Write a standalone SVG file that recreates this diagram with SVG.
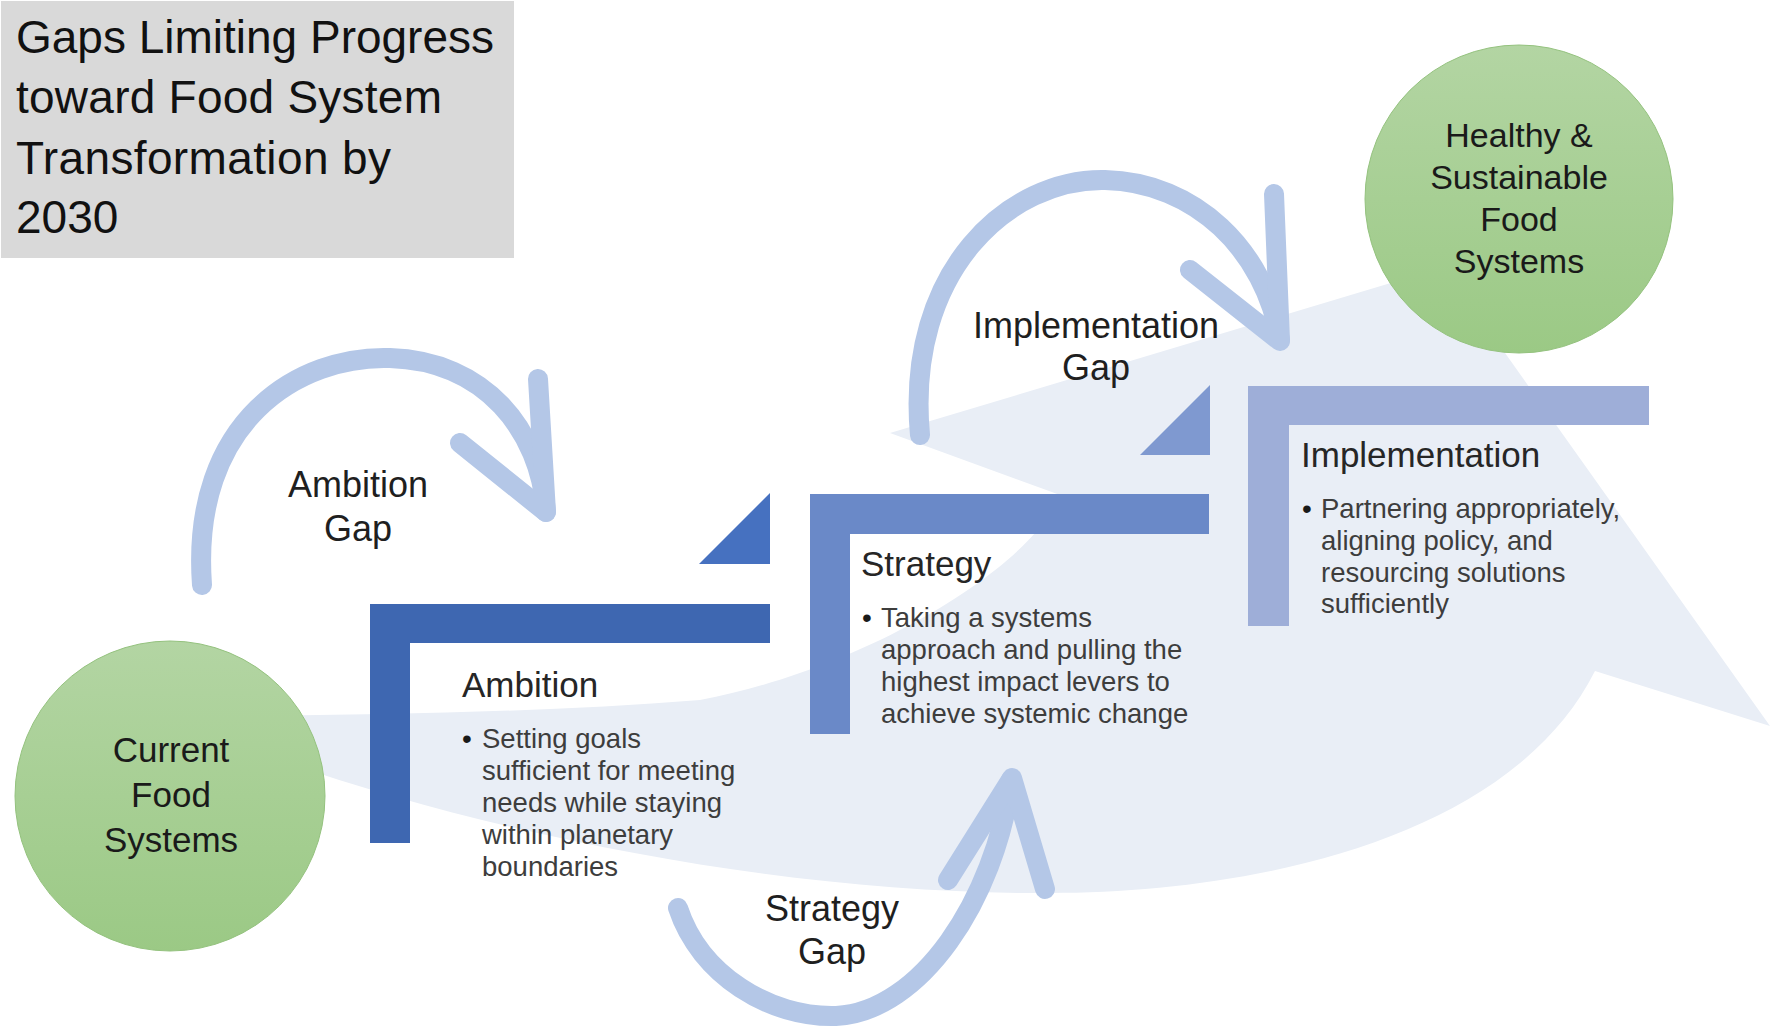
<svg xmlns="http://www.w3.org/2000/svg" width="1772" height="1028" viewBox="0 0 1772 1028">
  <defs>
    <linearGradient id="green" x1="0" y1="0" x2="0" y2="1">
      <stop offset="0" stop-color="#b3d5a3"/>
      <stop offset="1" stop-color="#9bc985"/>
    </linearGradient>
    <style>
      text { font-family: "Liberation Sans", Arial, sans-serif; }
      .ttl { font-size: 46px; fill: #111111; }
      .node { font-size: 35px; fill: #1a1a1a; text-anchor: middle; }
      .gaplbl { font-size: 36px; fill: #1f1f1f; text-anchor: middle; }
      .head { font-size: 35px; fill: #262626; }
      .bul { font-size: 27.5px; fill: #3d3d3d; }
      .dot { font-size: 28px; fill: #1a1a1a; }
      .gap { stroke: #b4c7e7; stroke-width: 20; fill: none; stroke-linecap: round; stroke-linejoin: round; }
      .circ { fill: url(#green); stroke: #94c27e; stroke-width: 1; }
    </style>
  </defs>

  <rect x="0" y="0" width="1772" height="1028" fill="#ffffff"/>

  <g id="title">
    <rect x="1" y="1" width="513" height="257" fill="#d9d9d9"/>
    <text class="ttl" x="16" y="53" textLength="478" lengthAdjust="spacing">Gaps Limiting Progress</text>
    <text class="ttl" x="16" y="113" textLength="426" lengthAdjust="spacing">toward Food System</text>
    <text class="ttl" x="16" y="174" textLength="375" lengthAdjust="spacing">Transformation by</text>
    <text class="ttl" x="16" y="233">2030</text>
  </g>

  <g id="background-arrow">
    <path d="M 220 718 L 250 716 C 400 714, 550 712, 700 700 C 860 670, 1030 570, 1060 495 L 890 433 L 1444 267 L 1770 726 L 1595 671 C 1510 840, 1250 893, 1050 893 C 800 895, 500 840, 250 750 Z" fill="#e9eef6"/>
  </g>

  <g id="node-current">
    <circle class="circ" cx="170" cy="796" r="155"/>
    <text class="node" x="171" y="762">Current</text>
    <text class="node" x="171" y="807">Food</text>
    <text class="node" x="171" y="852">Systems</text>
  </g>

  <g id="node-healthy">
    <circle class="circ" cx="1519" cy="199" r="154"/>
    <text class="node" x="1519" y="147" style="font-size:34px">Healthy &amp;</text>
    <text class="node" x="1519" y="189" style="font-size:34px">Sustainable</text>
    <text class="node" x="1519" y="231" style="font-size:34px">Food</text>
    <text class="node" x="1519" y="273" style="font-size:34px">Systems</text>
  </g>

  <g id="step-ambition">
    <path d="M 370 604 H 770 V 643 H 410 V 843 H 370 Z" fill="#3e67b1"/>
    <path d="M 699 564 L 770 564 L 770 493 Z" fill="#4671c0"/>
    <text class="head" x="462" y="697">Ambition</text>
    <text class="dot" x="462" y="748">•</text>
    <text class="bul" x="482" y="748">Setting goals</text>
    <text class="bul" x="482" y="780">sufficient for meeting</text>
    <text class="bul" x="482" y="812">needs while staying</text>
    <text class="bul" x="482" y="844">within planetary</text>
    <text class="bul" x="482" y="876">boundaries</text>
  </g>

  <g id="step-strategy">
    <path d="M 810 494 H 1209 V 534 H 850 V 734 H 810 Z" fill="#6a89c8"/>
    <path d="M 1140 455 L 1210 455 L 1210 385 Z" fill="#7f99d0"/>
    <text class="head" x="861" y="576">Strategy</text>
    <text class="dot" x="862" y="627">•</text>
    <text class="bul" x="881" y="627">Taking a systems</text>
    <text class="bul" x="881" y="659">approach and pulling the</text>
    <text class="bul" x="881" y="691">highest impact levers to</text>
    <text class="bul" x="881" y="723">achieve systemic change</text>
  </g>

  <g id="step-implementation">
    <path d="M 1248 386 H 1649 V 425 H 1289 V 626 H 1248 Z" fill="#9eaed8"/>
    <text class="head" x="1301" y="467">Implementation</text>
    <text class="dot" x="1302" y="518">•</text>
    <text class="bul" x="1321" y="518">Partnering appropriately,</text>
    <text class="bul" x="1321" y="550">aligning policy, and</text>
    <text class="bul" x="1321" y="582">resourcing solutions</text>
    <text class="bul" x="1321" y="613">sufficiently</text>
  </g>

  <g id="connectors">
    <g id="ambition-gap">
      <path class="gap" d="M 202 585 C 190 420, 300 355, 390 358 C 485 361, 540 430, 546 512"/>
      <path class="gap" d="M 538 379 L 546 512 L 460 443"/>
      <text class="gaplbl" x="358" y="497">Ambition</text>
      <text class="gaplbl" x="358" y="541">Gap</text>
    </g>
    <g id="strategy-gap">
      <path class="gap" d="M 678 908 C 700 975, 770 1018, 836 1016 C 920 1012, 995 900, 1011 780"/>
      <path class="gap" d="M 948 880 L 1012 778 L 1045 889"/>
      <text class="gaplbl" x="832" y="921">Strategy</text>
      <text class="gaplbl" x="832" y="964">Gap</text>
    </g>
    <g id="implementation-gap">
      <path class="gap" d="M 920 435 C 905 270, 1010 178, 1105 180 C 1195 182, 1265 250, 1280 340"/>
      <path class="gap" d="M 1274 194 L 1280 341 L 1190 270"/>
      <text class="gaplbl" x="1096" y="338">Implementation</text>
      <text class="gaplbl" x="1096" y="380">Gap</text>
    </g>
  </g>
</svg>
